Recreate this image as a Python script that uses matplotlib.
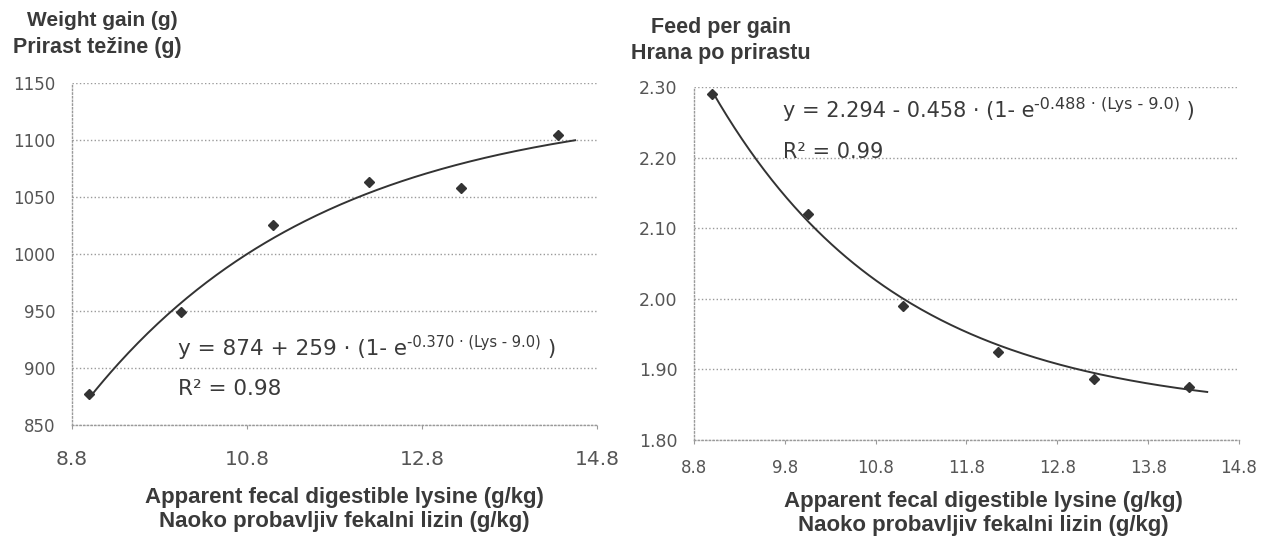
import numpy as np
import matplotlib
matplotlib.use("Agg")
import matplotlib.pyplot as plt
from matplotlib.transforms import offset_copy

# ---- data ----
wg_lys = [9.0, 10.05, 11.1, 12.2, 13.25, 14.35]
wg_gain = [877, 949, 1025, 1063, 1058, 1104]
fg_lys = [9.0, 10.05, 11.1, 12.15, 13.2, 14.25]
fg_ratio = [2.29, 2.12, 1.99, 1.925, 1.887, 1.875]

# fitted models printed on the chart: y = a + b*(1 - exp(-c*(Lys - 9.0)))
wg_fit = dict(a=874, b=259, c=0.370, x0=9.0, xend=14.55)
fg_fit = dict(a=2.294, b=-0.458, c=0.488, x0=9.0, xend=14.45)

wg_xticks = [8.8, 10.8, 12.8, 14.8]
wg_yticks = [850, 900, 950, 1000, 1050, 1100, 1150]
fg_xticks = [8.8, 9.8, 10.8, 11.8, 12.8, 13.8, 14.8]
fg_yticks = [1.80, 1.90, 2.00, 2.10, 2.20, 2.30]

plt.rcParams['font.family'] = ['Liberation Sans', 'DejaVu Sans']
WIDE = ['DejaVu Sans']

TXT = '#3a3a3a'
TICK = '#555555'
GRID = '#9a9a9a'
LINE = '#333333'

fig = plt.figure(figsize=(12.71, 5.40), dpi=100)
axL = fig.add_axes([72/1271, 1-425/540, 525/1271, 342/540])
axR = fig.add_axes([694/1271, 1-440/540, 545/1271, 353/540])


def style(ax, xt, yt, xlim, ylim, yfmt, xpad, xsize, ysize):
    ax.set_xlim(*xlim)
    ax.set_ylim(*ylim)
    ax.set_xticks(xt)
    ax.set_xticklabels([f"{v:.1f}" for v in xt], family=WIDE)
    ax.set_yticks(yt)
    ax.set_yticklabels([yfmt.format(v) for v in yt], family=WIDE)
    ax.grid(axis='y', linestyle=':', color=GRID, linewidth=1.0)
    ax.set_axisbelow(True)
    for s in ['top', 'right']:
        ax.spines[s].set_visible(False)
    for s in ['left', 'bottom']:
        ax.spines[s].set_linestyle(':')
        ax.spines[s].set_color(GRID)
        ax.spines[s].set_linewidth(1.0)
    ax.tick_params(axis='x', length=3, color=GRID, pad=xpad, labelsize=xsize, labelcolor=TICK)
    ax.tick_params(axis='y', length=0, pad=12, labelsize=ysize, labelcolor=TICK)


style(axL, wg_xticks, wg_yticks, (8.8, 14.8), (850, 1150), "{:.0f}", 15, 14.5, 12)
style(axR, fg_xticks, fg_yticks, (8.8, 14.8), (1.80, 2.30), "{:.2f}", 11, 12, 12.5)


def fit_curve(ax, p):
    xs = np.linspace(p['x0'], p['xend'], 200)
    ys = p['a'] + p['b'] * (1 - np.exp(-p['c'] * (xs - p['x0'])))
    ax.plot(xs, ys, color=LINE, linewidth=1.4, clip_on=False)


fit_curve(axL, wg_fit)
fit_curve(axR, fg_fit)
axL.plot(wg_lys, wg_gain, linestyle='none', marker='D', markersize=5.5, color=LINE, clip_on=False)
axR.plot(fg_lys, fg_ratio, linestyle='none', marker='D', markersize=5.5, color=LINE, clip_on=False)

renderer = fig.canvas.get_renderer()


def equation(x_px, y_px, pieces, size, sup_size):
    """pieces: list of (text, is_superscript)"""
    tr = fig.transFigure
    x = x_px / 1271
    y = 1 - y_px / 540
    cur = 0.0
    for txt, sup in pieces:
        t = offset_copy(tr, fig=fig, x=cur, y=(8 if sup else 0), units='dots')
        h = fig.text(x, y, txt, transform=t, fontsize=(sup_size if sup else size),
                     color=TXT, va='baseline', ha='left', family=WIDE)
        bb = h.get_window_extent(renderer)
        cur += bb.width


equation(178, 355, [("y = 874 + 259 · (1- e", False), ("-0.370 · (Lys - 9.0)", True), (" )", False)], 15.5, 10.5)
equation(178, 395, [("R² = 0.98", False)], 15.5, 10.5)
equation(783, 117, [("y = 2.294 - 0.458 · (1- e", False), ("-0.488 · (Lys - 9.0)", True), (" )", False)], 15, 11.5)
equation(783, 158, [("R² = 0.99", False)], 15, 11.5)

# titles
fig.text(102/1271, 1-20/540, "Weight gain (g)", ha='center', va='center', fontsize=15, fontweight='bold', color=TXT)
fig.text(97/1271, 1-47/540, "Prirast težine (g)", ha='center', va='center', fontsize=15.5, fontweight='bold', color=TXT)
fig.text(721/1271, 1-27/540, "Feed per gain", ha='center', va='center', fontsize=15.5, fontweight='bold', color=TXT)
fig.text(721/1271, 1-54/540, "Hrana po prirastu", ha='center', va='center', fontsize=15.5, fontweight='bold', color=TXT)

# x labels
fig.text(344/1271, 1-497/540, "Apparent fecal digestible lysine (g/kg)", ha='center', va='center', fontsize=16, fontweight='bold', color=TXT)
fig.text(344/1271, 1-521/540, "Naoko probavljiv fekalni lizin (g/kg)", ha='center', va='center', fontsize=16, fontweight='bold', color=TXT)
fig.text(983/1271, 1-501/540, "Apparent fecal digestible lysine (g/kg)", ha='center', va='center', fontsize=16, fontweight='bold', color=TXT)
fig.text(983/1271, 1-525/540, "Naoko probavljiv fekalni lizin (g/kg)", ha='center', va='center', fontsize=16, fontweight='bold', color=TXT)

fig.savefig("out.png", dpi=100)
